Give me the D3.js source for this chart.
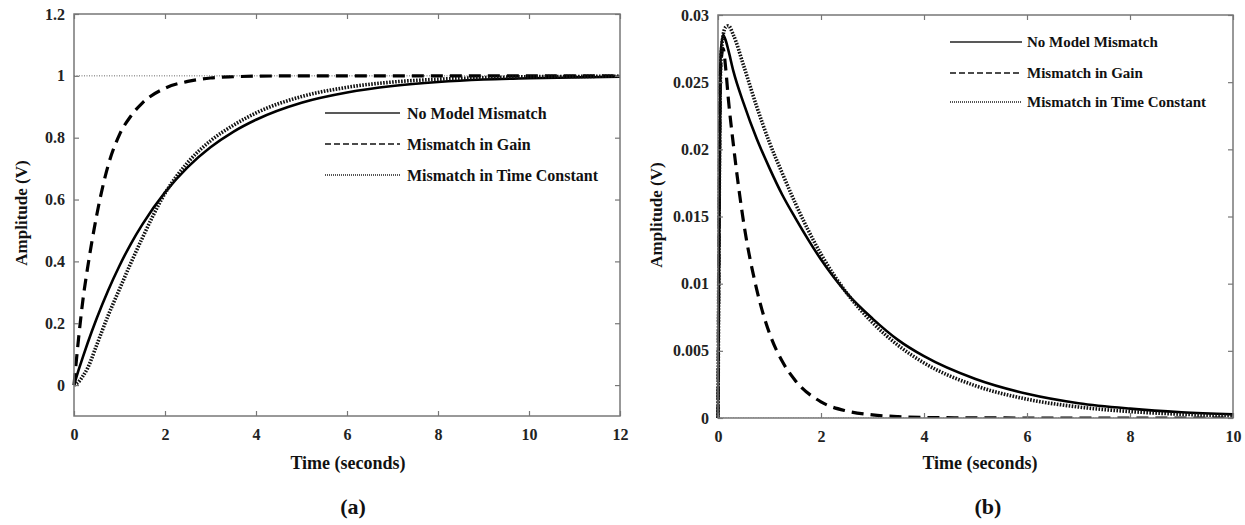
<!DOCTYPE html>
<html>
<head>
<meta charset="utf-8">
<script src="https://cdn.jsdelivr.net/npm/d3@7"></script>
<style>
  body { margin: 0; background: #fff; }
  svg { display: block; font-family: 'Liberation Serif', 'Times New Roman', serif; font-weight: bold; }
</style>
</head>
<body>
<svg id="chart" width="1245" height="525"></svg>
<script>
// Panel (a): output response
const timeA = [0, 0.1, 0.2, 0.3, 0.5, 0.75, 1, 1.25, 1.5, 2, 2.5, 3, 3.5, 4, 5, 6, 7, 8, 9, 10, 11, 12]
const noMismatchA = [0, 0.048, 0.093, 0.136, 0.216, 0.306, 0.386, 0.457, 0.519, 0.623, 0.705, 0.769, 0.819, 0.858, 0.913, 0.946, 0.967, 0.98, 0.988, 0.992, 0.995, 0.997]
const gainMismatchA = [0, 0.15, 0.28, 0.38, 0.55, 0.71, 0.81, 0.87, 0.912, 0.96, 0.982, 0.993, 0.997, 0.999, 1, 1, 1, 1, 1, 1, 1, 1]
const tauMismatchA = [0, 0.01, 0.03, 0.055, 0.13, 0.225, 0.31, 0.395, 0.475, 0.62, 0.72, 0.79, 0.84, 0.88, 0.933, 0.963, 0.98, 0.989, 0.994, 0.997, 0.998, 0.999]
const setTimeA = [0, 12]
const setpointA = [1, 1]
const xTicksA = [0, 2, 4, 6, 8, 10, 12]
const yTicksA = [0, 0.2, 0.4, 0.6, 0.8, 1, 1.2]

// Panel (b): control effort
const timeB = [0, 0.05, 0.1, 0.15, 0.2, 0.3, 0.5, 0.75, 1, 1.25, 1.5, 2, 2.5, 3, 3.5, 4, 5, 6, 7, 8, 9, 10]
const noMismatchB = [0, 0.027, 0.0285, 0.0281, 0.0274, 0.0258, 0.0234, 0.0208, 0.0186, 0.0166, 0.0149, 0.0118, 0.0093, 0.0074, 0.0058, 0.0046, 0.0029, 0.0018, 0.0011, 0.0007, 0.00043, 0.00027]
const gainMismatchB = [0, 0.026, 0.0275, 0.026, 0.0238, 0.0203, 0.0145, 0.0096, 0.0063, 0.0042, 0.0028, 0.0012, 0.00052, 0.00023, 0.0001, 0.00004, 0.00001, 0, 0, 0, 0, 0]
const tauMismatchB = [0, 0.026, 0.0285, 0.0291, 0.0292, 0.0285, 0.0262, 0.0232, 0.0205, 0.0182, 0.016, 0.0122, 0.0093, 0.0071, 0.0054, 0.0041, 0.0024, 0.0014, 0.00082, 0.00048, 0.00028, 0.00016]
const setTimeB = [0, 10]
const setpointB = [0, 0]
const xTicksB = [0, 2, 4, 6, 8, 10]
const yTicksB = [0, 0.005, 0.01, 0.015, 0.02, 0.025, 0.03]

const legendLabels = ['No Model Mismatch', 'Mismatch in Gain', 'Mismatch in Time Constant']

const svg = d3.select('#chart')
svg.append('rect').attr('width', 1245).attr('height', 525).attr('fill', '#fff')

const styles = [
  { width: 2.6, dash: null, color: '#000' },
  { width: 3.2, dash: '12,7', color: '#000' },
  { width: 3.6, dash: '1.6,1.4', color: '#111' }
]
const legendStyles = [
  { width: 1.6, dash: null, color: '#222' },
  { width: 1.6, dash: '6,3', color: '#111' },
  { width: 1.8, dash: '1,1', color: '#555' }
]

function renderPanel (p) {
  const x = d3.scaleLinear().domain(p.xDomain).range([p.left, p.right])
  const y = d3.scaleLinear().domain(p.yDomain).range([p.bottom, p.top])
  const g = svg.append('g')
  const fmt = d => `${d}`

  g.append('clipPath').attr('id', `clip-${p.id}`)
    .append('rect')
    .attr('x', p.left - 2).attr('y', p.top - 4)
    .attr('width', p.right - p.left + 2).attr('height', p.bottom - p.top + 4)

  const line = d3.line()
    .x(d => x(d[0]))
    .y(d => y(d[1]))
    .curve(d3.curveMonotoneX)

  const plot = g.append('g').attr('clip-path', `url(#clip-${p.id})`)

  // setpoint (thin dotted)
  plot.append('path')
    .datum(p.setTime.map((t, i) => [t, p.setpoint[i]]))
    .attr('d', d3.line().x(d => x(d[0])).y(d => y(d[1])))
    .attr('fill', 'none')
    .attr('stroke', '#666')
    .attr('stroke-width', 1)
    .attr('stroke-dasharray', '1,1.5')

  p.series.forEach((vals, i) => {
    const s = styles[i]
    plot.append('path')
      .datum(p.time.map((t, j) => [t, vals[j]]))
      .attr('d', line)
      .attr('fill', 'none')
      .attr('stroke', s.color)
      .attr('stroke-width', s.width)
      .attr('stroke-dasharray', s.dash)
  })

  const axisStyle = sel => {
    sel.select('.domain').remove()
    sel.selectAll('.tick line').attr('stroke', '#777').attr('stroke-width', 1.2)
    sel.selectAll('text').attr('fill', '#222').style('font-size', '16px')
      .style('font-family', 'Liberation Serif, serif').style('font-weight', 'bold')
  }

  g.append('g').attr('transform', `translate(0,${p.bottom})`)
    .call(d3.axisBottom(x).tickValues(p.xTicks).tickSizeInner(-5).tickSizeOuter(0).tickPadding(13).tickFormat(fmt))
    .call(axisStyle)
  g.append('g').attr('transform', `translate(0,${p.top})`)
    .call(d3.axisTop(x).tickValues(p.xTicks).tickSizeInner(-5).tickSizeOuter(0).tickFormat(''))
    .call(axisStyle)
  g.append('g').attr('transform', `translate(${p.left},0)`)
    .call(d3.axisLeft(y).tickValues(p.yTicks).tickSizeInner(-5).tickSizeOuter(0).tickPadding(9).tickFormat(fmt))
    .call(axisStyle)
  g.append('g').attr('transform', `translate(${p.right},0)`)
    .call(d3.axisRight(y).tickValues(p.yTicks).tickSizeInner(-5).tickSizeOuter(0).tickFormat(''))
    .call(axisStyle)

  // frame
  g.append('rect')
    .attr('x', p.left).attr('y', p.top)
    .attr('width', p.right - p.left).attr('height', p.bottom - p.top)
    .attr('fill', 'none').attr('stroke', '#777').attr('stroke-width', 1.5)

  // legend (no box)
  const lg = p.legend
  legendLabels.forEach((label, i) => {
    const s = legendStyles[i]
    g.append('line')
      .attr('x1', lg.x0).attr('x2', lg.x1)
      .attr('y1', lg.ys[i]).attr('y2', lg.ys[i])
      .attr('stroke', s.color).attr('stroke-width', s.width)
      .attr('stroke-dasharray', s.dash)
    g.append('text')
      .attr('x', lg.textX).attr('y', lg.ys[i]).attr('dy', '0.35em')
      .style('font-size', `${lg.size}px`).attr('fill', '#111')
      .text(label)
  })

  g.append('text')
    .attr('x', p.xTitleX).attr('y', 469)
    .attr('text-anchor', 'middle').style('font-size', '18px').attr('fill', '#111')
    .text('Time (seconds)')

  g.append('text')
    .attr('transform', `translate(${p.yTitleX},${p.yTitleY}) rotate(-90)`)
    .attr('text-anchor', 'middle').attr('dy', '0.35em')
    .style('font-size', '17px').attr('fill', '#111')
    .text('Amplitude (V)')

  g.append('text')
    .attr('x', p.tagX).attr('y', 514)
    .attr('text-anchor', 'middle').style('font-size', '22px').attr('fill', '#111')
    .text(p.tag)
}

renderPanel({
  id: 'a',
  left: 74,
  right: 620,
  top: 14,
  bottom: 416,
  xDomain: [0, 12],
  yDomain: [-0.1, 1.2],
  xTicks: xTicksA,
  yTicks: yTicksA,
  time: timeA,
  series: [noMismatchA, gainMismatchA, tauMismatchA],
  setTime: setTimeA,
  setpoint: setpointA,
  legend: { x0: 325, x1: 400, textX: 407, ys: [113, 144, 175], size: 16 },
  xTitleX: 348,
  yTitleX: 21,
  yTitleY: 213,
  tagX: 353,
  tag: '(a)'
})

renderPanel({
  id: 'b',
  left: 718,
  right: 1233,
  top: 15,
  bottom: 418,
  xDomain: [0, 10],
  yDomain: [0, 0.03],
  xTicks: xTicksB,
  yTicks: yTicksB,
  time: timeB,
  series: [noMismatchB, gainMismatchB, tauMismatchB],
  setTime: setTimeB,
  setpoint: setpointB,
  legend: { x0: 950, x1: 1022, textX: 1027, ys: [42, 73, 102], size: 15 },
  xTitleX: 980,
  yTitleX: 656,
  yTitleY: 215,
  tagX: 988,
  tag: '(b)'
})
</script>
</body>
</html>
